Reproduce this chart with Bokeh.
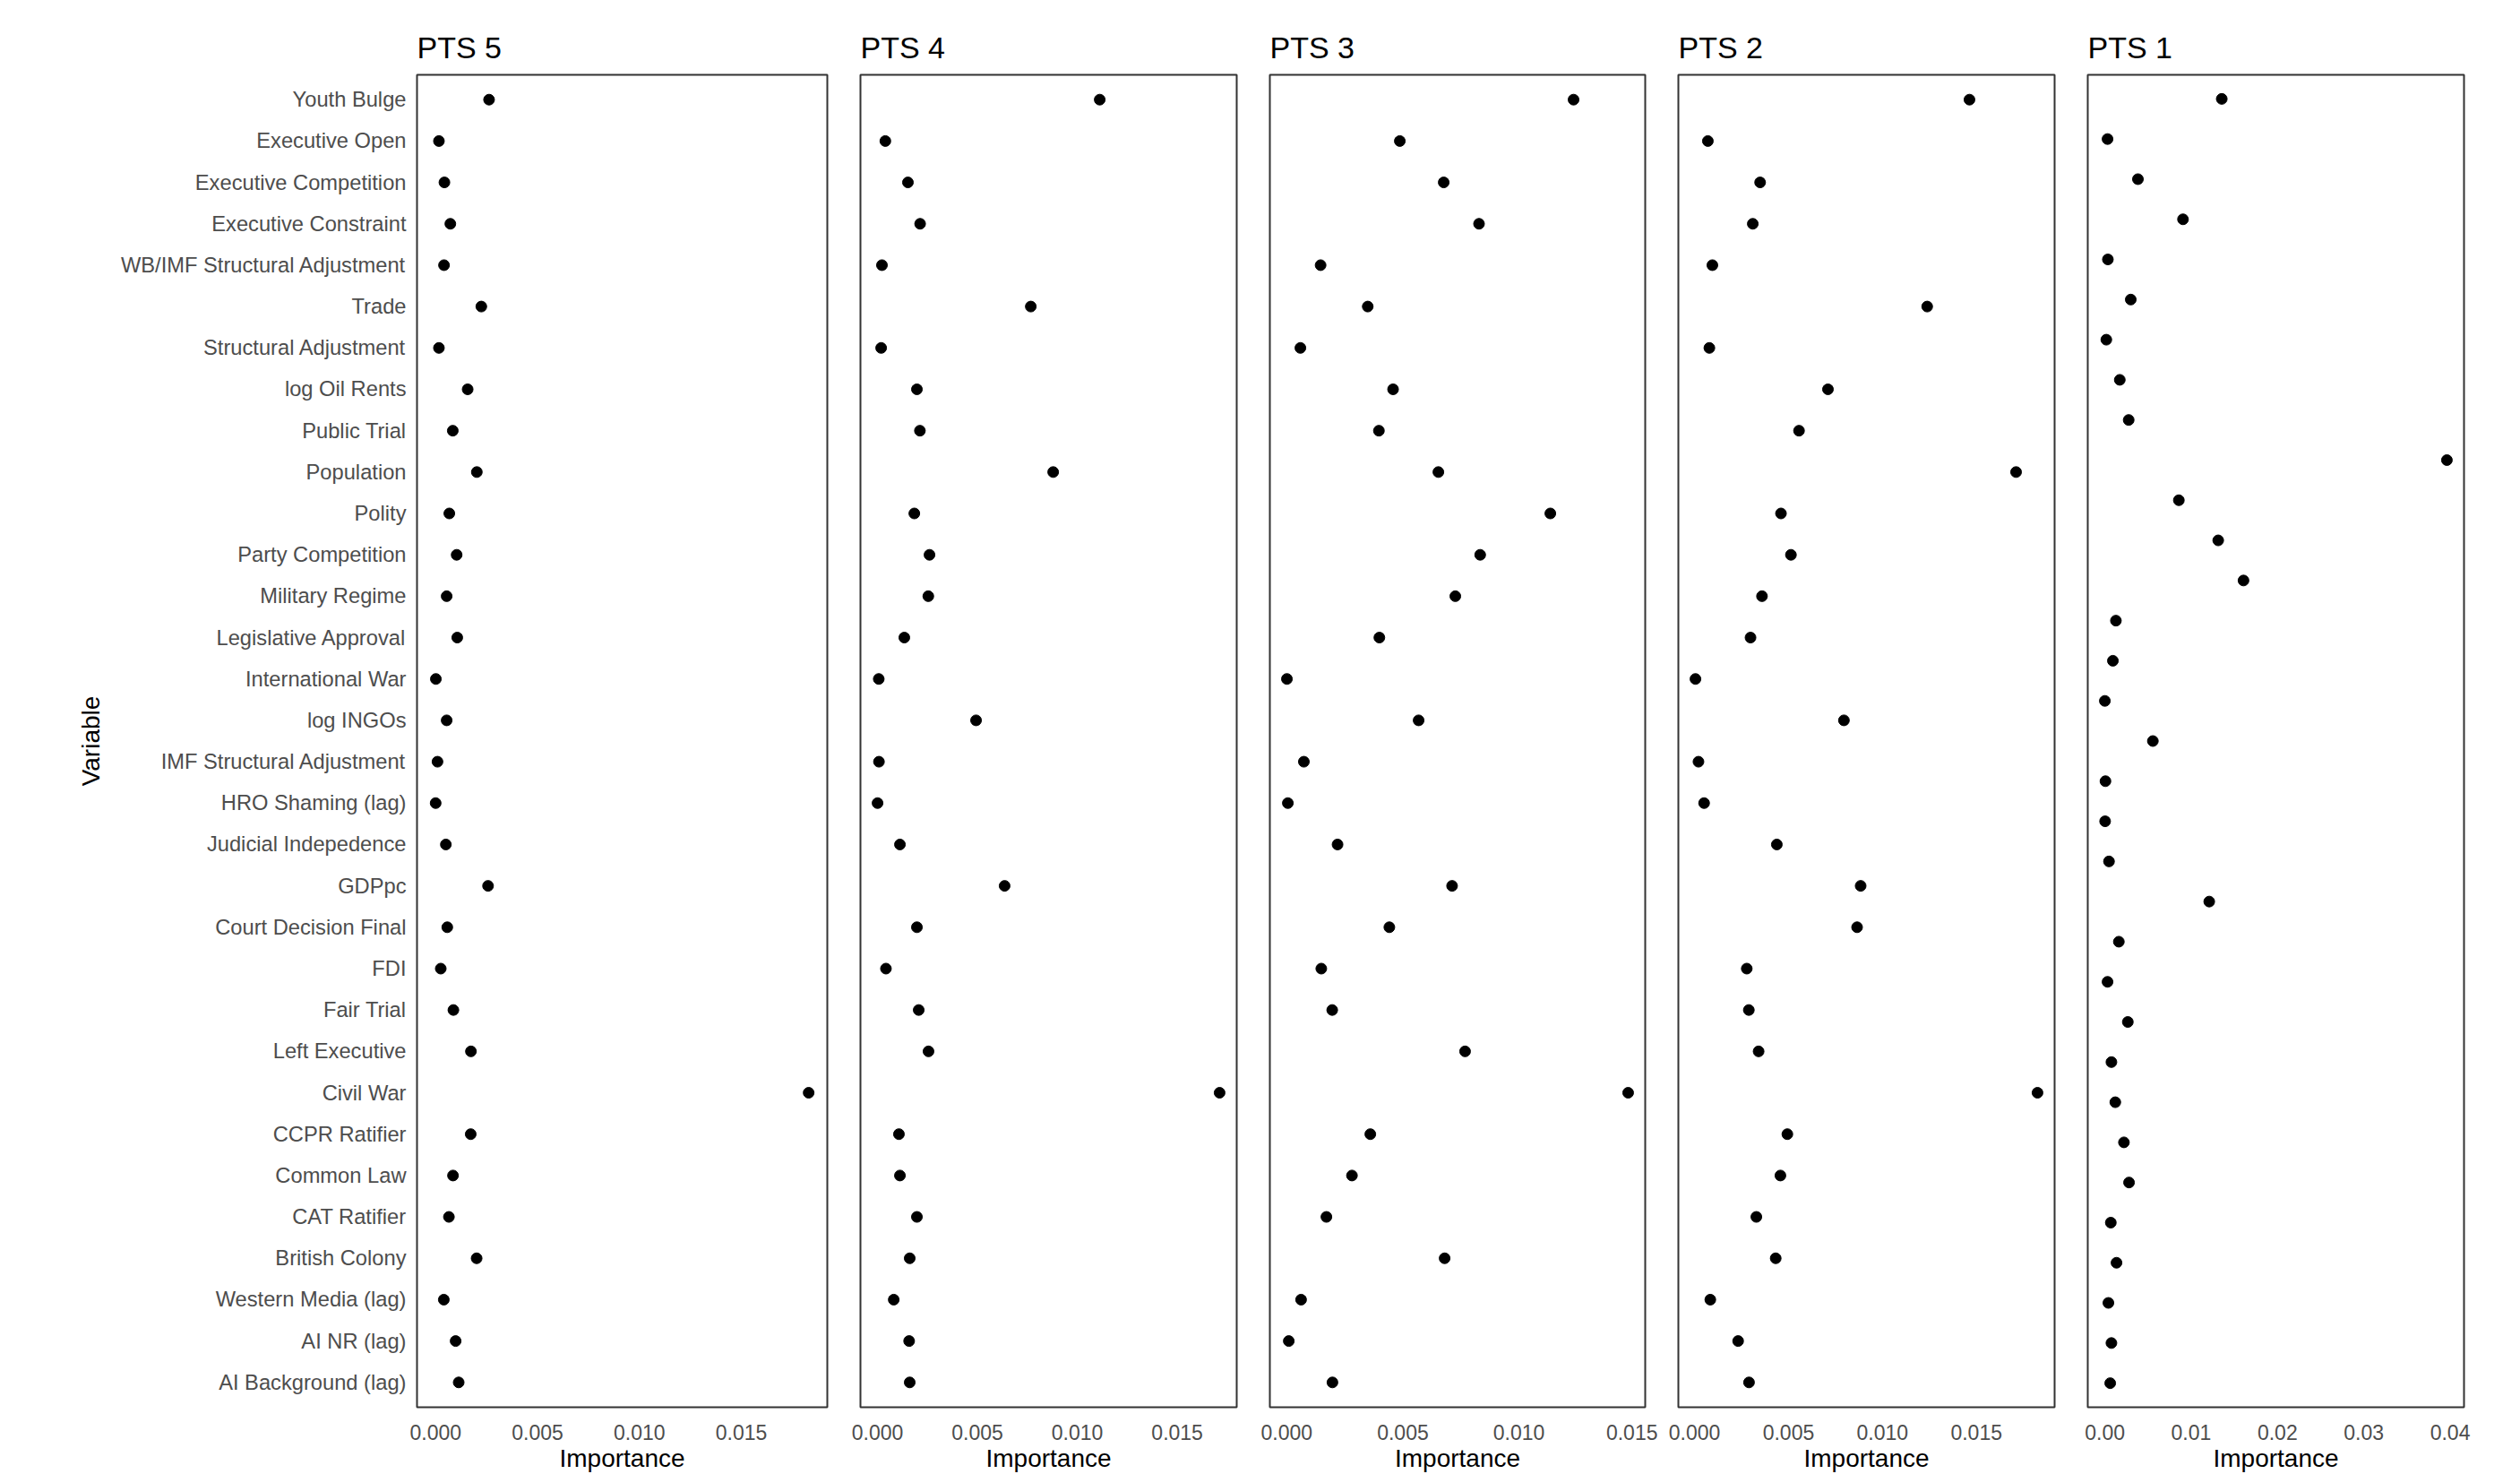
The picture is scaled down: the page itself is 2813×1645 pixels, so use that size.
from bokeh.plotting import figure
from bokeh.layouts import row
from bokeh.models import FactorRange, Range1d, ColumnDataSource, FixedTicker, NumeralTickFormatter
from bokeh.embed import file_html
from bokeh.resources import INLINE

# ---------------- data ----------------
variables = [
    "Youth Bulge", "Executive Open", "Executive Competition", "Executive Constraint",
    "WB/IMF Structural Adjustment", "Trade", "Structural Adjustment", "log Oil Rents",
    "Public Trial", "Population", "Polity", "Party Competition", "Military Regime",
    "Legislative Approval", "International War", "log INGOs", "IMF Structural Adjustment",
    "HRO Shaming (lag)", "Judicial Indepedence", "GDPpc", "Court Decision Final", "FDI",
    "Fair Trial", "Left Executive", "Civil War", "CCPR Ratifier", "Common Law",
    "CAT Ratifier", "British Colony", "Western Media (lag)", "AI NR (lag)",
    "AI Background (lag)",
]
# the PTS 1 panel has one more (unlabelled) row
variables_pts1 = variables + ["Other"]

pts5 = [0.00262, 0.00016, 0.00043, 0.00072, 0.00041, 0.00224, 0.00016, 0.00157,
        0.00084, 0.00202, 0.00067, 0.00103, 0.00054, 0.00106, 0.00001, 0.00054,
        0.00009, 0.00000, 0.00050, 0.00257, 0.00057, 0.00025, 0.00087, 0.00173,
        0.01830, 0.00172, 0.00085, 0.00065, 0.00201, 0.00040, 0.00098, 0.00113]
pts4 = [0.01112, 0.00039, 0.00152, 0.00213, 0.00022, 0.00767, 0.00018, 0.00197,
        0.00212, 0.00879, 0.00184, 0.00260, 0.00254, 0.00134, 0.00006, 0.00493,
        0.00007, 0.00000, 0.00112, 0.00636, 0.00197, 0.00042, 0.00206, 0.00255,
        0.01712, 0.00107, 0.00112, 0.00197, 0.00161, 0.00081, 0.00158, 0.00161]
pts3 = [0.01235, 0.00487, 0.00676, 0.00828, 0.00146, 0.00349, 0.00059, 0.00458,
        0.00397, 0.00653, 0.01135, 0.00833, 0.00726, 0.00399, 0.00001, 0.00568,
        0.00074, 0.00005, 0.00219, 0.00712, 0.00442, 0.00149, 0.00196, 0.00768,
        0.01470, 0.00360, 0.00281, 0.00171, 0.00680, 0.00062, 0.00009, 0.00197]
pts2 = [0.01463, 0.00071, 0.00349, 0.00310, 0.00095, 0.01238, 0.00079, 0.00710,
        0.00556, 0.01711, 0.00460, 0.00513, 0.00359, 0.00298, 0.00005, 0.00795,
        0.00021, 0.00051, 0.00438, 0.00884, 0.00865, 0.00278, 0.00289, 0.00341,
        0.01825, 0.00494, 0.00457, 0.00329, 0.00432, 0.00084, 0.00232, 0.00290]
pts1 = [0.01354, 0.00031, 0.00383, 0.00905, 0.00035, 0.00300, 0.00017, 0.00173,
        0.00276, 0.03962, 0.00857, 0.01313, 0.01606, 0.00128, 0.00093, 0.00000,
        0.00556, 0.00007, 0.00003, 0.00048, 0.01209, 0.00162, 0.00031, 0.00266,
        0.00076, 0.00121, 0.00221, 0.00280, 0.00069, 0.00135, 0.00041, 0.00076,
        0.00062]

titles = ["PTS 5", "PTS 4", "PTS 3", "PTS 2", "PTS 1"]
ticks_small = [0.0, 0.005, 0.010, 0.015]
ticks_large = [0.0, 0.01, 0.02, 0.03, 0.04]

FONT = "Liberation Sans"
H = 1645
TOP = 83
BOTTOM = 75


def panel(title, cats, vals, ticks, fmt, width, left, right, show_y):
    lo, hi = min(vals), max(vals)
    span = hi - lo
    xr = Range1d(lo - 0.05 * span, hi + 0.05 * span)
    yr = FactorRange(factors=list(reversed(cats)), range_padding=0.1,
                     range_padding_units="absolute")
    p = figure(width=width, height=H, x_range=xr, y_range=yr,
               output_backend="svg", toolbar_location=None,
               min_border_left=left, min_border_right=right,
               min_border_top=TOP, min_border_bottom=BOTTOM,
               background_fill_color="white", border_fill_color="white")
    src = ColumnDataSource(dict(x=vals, y=cats))
    p.scatter("x", "y", source=src, size=12, color="black")
    p.grid.visible = False
    p.outline_line_color = "#333333"
    p.outline_line_width = 2

    p.title.text = title
    p.title.text_font = FONT
    p.title.text_font_size = "34px"
    p.title.text_font_style = "normal"
    p.title.text_color = "black"
    p.title.align = "left"
    p.title.offset = 0
    p.title.standoff = 24

    xa = p.xaxis[0]
    xa.ticker = FixedTicker(ticks=ticks)
    xa.formatter = NumeralTickFormatter(format=fmt)
    xa.axis_label = "Importance"
    xa.axis_label_text_font = FONT
    xa.axis_label_text_font_size = "28px"
    xa.axis_label_text_font_style = "normal"
    xa.axis_label_text_color = "black"
    xa.axis_label_standoff = 2
    xa.major_label_text_font = FONT
    xa.major_label_text_font_size = "23px"
    xa.major_label_text_color = "#4D4D4D"
    xa.major_label_standoff = 19
    xa.major_tick_out = 0
    xa.major_tick_in = 0
    xa.minor_tick_out = 0
    xa.minor_tick_in = 0
    xa.axis_line_color = None

    ya = p.yaxis[0]
    if show_y:
        ya.axis_label = "Variable"
        ya.axis_label_text_font = FONT
        ya.axis_label_text_font_size = "28px"
        ya.axis_label_text_font_style = "normal"
        ya.axis_label_text_color = "black"
        ya.axis_label_standoff = 15
        ya.major_label_text_font = FONT
        ya.major_label_text_font_size = "23.7px"
        ya.major_label_text_color = "#4D4D4D"
        ya.major_label_standoff = 12
        ya.major_tick_out = 0
        ya.major_tick_in = 0
        ya.axis_line_color = None
    else:
        ya.visible = False
    return p


p5 = panel(titles[0], variables, pts5, ticks_small, "0.000", 942, 465, 19, True)
p4 = panel(titles[1], variables, pts4, ticks_small, "0.000", 457, 18, 19, False)
p3 = panel(titles[2], variables, pts3, ticks_small, "0.000", 451, 18, 14, False)
p2 = panel(titles[3], variables, pts2, ticks_small, "0.000", 462, 23, 19, False)
p1 = panel(titles[4], variables_pts1, pts1, ticks_large, "0.00", 485, 18, 47, False)

layout = row(p5, p4, p3, p2, p1, spacing=0)

open("out.html", "w").write(file_html(layout, INLINE))
